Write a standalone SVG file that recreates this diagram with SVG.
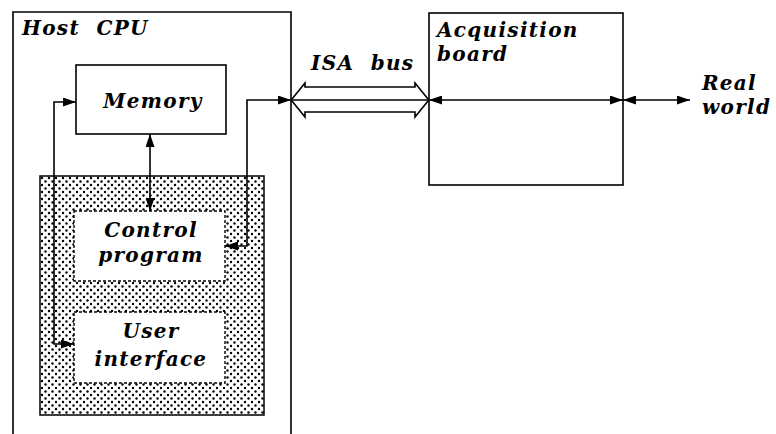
<svg xmlns="http://www.w3.org/2000/svg" width="776" height="434" viewBox="0 0 776 434">
<style>
.box{fill:none;stroke:#000;stroke-width:1.6}
.wbox{fill:#fff;stroke:#000;stroke-width:1.4;stroke-dasharray:3 2}
.ln{fill:none;stroke:#000;stroke-width:1.6}
.bus{fill:none;stroke:#000;stroke-width:1.6;stroke-linejoin:miter}
text{font-family:"DejaVu Serif","Liberation Serif",serif;font-style:italic;font-weight:bold;font-size:20px;letter-spacing:1.3px;fill:#000}
.c{text-anchor:middle}
.pre{white-space:pre}
</style>
<defs>
<pattern id="dots" width="7" height="7" patternUnits="userSpaceOnUse" x="40" y="176">
<rect width="7" height="7" fill="#fff"/>
<circle cx="2" cy="2" r="1.2" fill="#000"/>
<circle cx="5.5" cy="5.5" r="1.2" fill="#000"/>
</pattern>
<marker id="ah" viewBox="0 0 13 9" refX="13" refY="4.5" markerWidth="13" markerHeight="9" markerUnits="userSpaceOnUse" orient="auto-start-reverse">
<path d="M0,0 L13,4.5 L0,9 z" fill="#000"/>
</marker>
</defs>
<g id="host-cpu">
<path class="box" d="M13,434 L13,12 L291,12 L291,434"/>
<text class="pre" x="22" y="35" xml:space="preserve">Host  CPU</text>
</g>
<g id="software-area">
<rect x="40" y="176" width="224" height="239" fill="url(#dots)" stroke="#000" stroke-width="1.5"/>
</g>
<g id="memory">
<rect class="box" x="76" y="65" width="150" height="69" fill="#fff"/>
<text class="c" x="153" y="108">Memory</text>
</g>
<g id="control-program">
<rect class="wbox" x="74" y="211" width="151" height="70"/>
<text class="c" x="151" y="237">Control</text>
<text class="c" x="151" y="262">program</text>
</g>
<g id="user-interface">
<rect class="wbox" x="74" y="312" width="151" height="71"/>
<text class="c" x="151" y="338">User</text>
<text class="c" x="151" y="366">interface</text>
</g>
<g id="acquisition-board">
<rect class="box" x="429" y="13" width="194" height="172"/>
<text x="437" y="37">Acquisition</text>
<text x="437" y="61">board</text>
</g>
<g id="real-world">
<text x="757" y="90" text-anchor="end">Real</text>
<text x="702" y="114">world</text>
</g>
<g id="connectors">
<path class="ln" d="M76,102 L54,102 L54,344 L74,344" marker-start="url(#ah)" marker-end="url(#ah)"/>
<path class="ln" d="M150,134 L150,211" marker-start="url(#ah)" marker-end="url(#ah)"/>
<path class="ln" d="M225,246 L247,246 L247,100 L291,100" marker-start="url(#ah)" marker-end="url(#ah)"/>
<path class="ln" d="M291,100 L429,100"/>
<path class="bus" d="M292,99 L305,83 L305,87 L415,87 L415,83 L428,99"/>
<path class="bus" d="M292,101 L305,117 L305,112 L415,112 L415,117 L428,101"/>
<path class="ln" d="M429,100 L623,100" marker-start="url(#ah)" marker-end="url(#ah)"/>
<path class="ln" d="M623,100 L690,100" marker-start="url(#ah)" marker-end="url(#ah)"/>
<text class="pre" x="311" y="70" xml:space="preserve">ISA  bus</text>
</g>
</svg>
